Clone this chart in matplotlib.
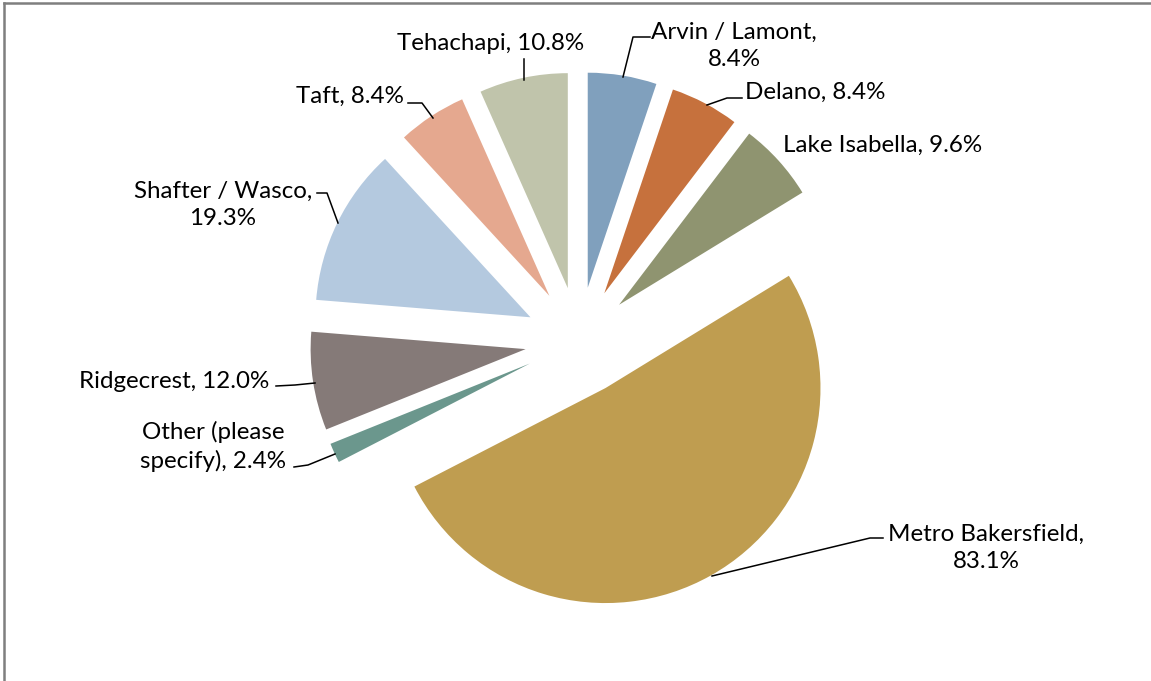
import matplotlib
matplotlib.use("Agg")
import matplotlib.pyplot as plt
from matplotlib.lines import Line2D

W, H = 1151, 681

# survey responses by area (multi-select, so shares add past 100%)
areas = ["Arvin / Lamont", "Delano", "Lake Isabella", "Metro Bakersfield",
         "Other (please specify)", "Ridgecrest", "Shafter / Wasco", "Taft", "Tehachapi"]
shares = [8.4, 8.4, 9.6, 83.1, 2.4, 12.0, 19.3, 8.4, 10.8]
colors = ["#80A0BD", "#C6713D", "#8F9470", "#BF9D50", "#6B978D",
          "#857A78", "#B4C9DF", "#E5A88F", "#C0C4AB"]

# label text layout (pixel x, pixel y from top, alignment, line break)
label_text = ["Arvin / Lamont,\n{:.1f}%", "Delano, {:.1f}%", "Lake Isabella, {:.1f}%",
              "Metro Bakersfield,\n{:.1f}%", "Other (please\nspecify), {:.1f}%",
              "Ridgecrest, {:.1f}%", "Shafter / Wasco,\n{:.1f}%", "Taft, {:.1f}%",
              "Tehachapi, {:.1f}%"]
label_pos = [(734, 46, "center"), (745, 92, "left"), (783, 145, "left"),
             (986, 548, "center"), (213, 446, "center"), (79, 381, "left"),
             (223, 205, "center"), (296, 96, "left"), (491, 43, "center")]
leaders = [
    [(623, 77), (633, 37), (650, 37)],
    [(707, 105), (727, 98), (742, 98)],
    None,
    [(712, 576), (870, 538), (883, 538)],
    [(335, 454), (308, 465), (294, 467)],
    [(315, 383), (295, 385), (276, 386)],
    [(338, 223), (327, 193), (317, 193)],
    [(433, 118), (422, 103), (408, 103)],
    [(524, 80), (524, 59)],
]

plt.rcParams["font.family"] = ["Lato", "DejaVu Sans"]

fig = plt.figure(figsize=(W / 100, H / 100), dpi=100)
ax = fig.add_axes([0, 0, 1, 1])

radius = 215
ax.pie(shares, colors=colors, explode=[54] * len(shares), radius=radius,
       center=(579, H - 341), startangle=90, counterclock=False,
       wedgeprops=dict(linewidth=0))

for txt, val, (x, y, ha), pts in zip(label_text, shares, label_pos, leaders):
    ax.text(x, H - y, txt.format(val), ha=ha, va="center", fontsize=17.4,
            linespacing=1.38, color="black")
    if pts:
        ax.plot([p[0] for p in pts], [H - p[1] for p in pts], color="black", lw=1.1)

ax.set_xlim(0, W)
ax.set_ylim(0, H)
ax.set_aspect("auto")
ax.axis("off")

# chart frame, cut off at the right and bottom
fig.add_artist(Line2D([4 / W, 4 / W], [0, 1 - 3 / H], color="#7F7F7F", lw=1.8))
fig.add_artist(Line2D([4 / W, 1], [1 - 3 / H, 1 - 3 / H], color="#7F7F7F", lw=1.8))

fig.savefig("out.png", dpi=100)
